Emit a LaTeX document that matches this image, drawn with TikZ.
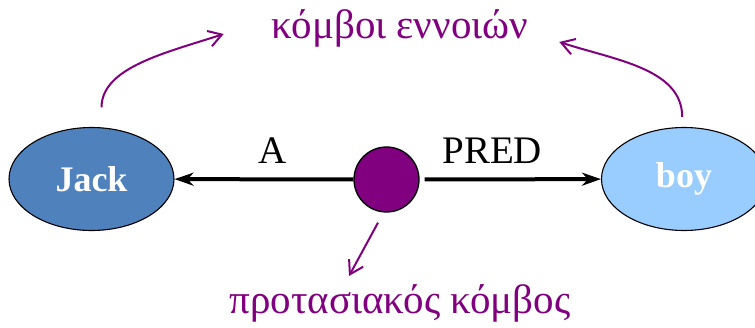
\documentclass[tikz,border=0pt]{standalone}
\usepackage{fontspec}
\setmainfont{Liberation Serif}
\usetikzlibrary{arrows.meta, shapes.geometric}

\definecolor{jackblue}{RGB}{79,129,189}
\definecolor{boyblue}{RGB}{153,204,255}
\definecolor{nodepurple}{RGB}{128,0,128}

\begin{document}
\begin{tikzpicture}[x=1pt, y=1pt,
  concept/.style={ellipse, draw, line width=1.1pt, minimum width=165pt, minimum height=103pt,
    inner sep=0pt, text=white, font=\fontsize{36}{40}\selectfont\bfseries},
  clausenode/.style={circle, draw, line width=1.3pt, fill=nodepurple, minimum size=65pt, inner sep=0pt},
  relarrow/.style={line width=4pt, -{Stealth[length=19pt, width=13pt, inset=6pt]}},
  rolelbl/.style={font=\fontsize{39}{44}\selectfont, inner sep=0pt, above=14pt},
  pointer/.style={nodepurple, line width=2pt, -{Straight Barb[length=13pt, width=16pt]}},
  note/.style={text=nodepurple, font=\fontsize{41}{46}\selectfont, inner sep=0pt, anchor=base}]

% Frame of the picture
\clip (0,0) rectangle (755,327);

% Concept nodes and the clause node
\foreach \name/\x/\col/\txt in {jack/91.5/jackblue/Jack, boy/684/boyblue/boy} {
    \node[concept, fill=\col] (\name) at (\x,148) {\txt};
}
\node[clausenode] (clause) at (386.5,147.5) {};

% Labelled relations
\draw[relarrow] (clause) -- (jack) node[rolelbl, pos=0.45] (rolea) {A};
\draw[relarrow, shorten <=5pt] (clause) -- (boy) node[rolelbl, pos=0.4] (rolepred) {PRED};

% Notes
\node[note] (concepts) at (400,288) {κόμβοι εννοιών};
\node[note] (clausenote) at (400,14) {προτασιακός κόμβος};

% Pointers to the nodes
\draw[pointer, shorten <=20pt] (jack.79) to[out=90, in=198] ([xshift=-48pt, yshift=5pt]concepts.base west);
\draw[pointer, shorten <=10pt] (boy.92) to[out=90, in=-18] ([xshift=31pt, yshift=-3pt]concepts.base east);
\draw[pointer] ([shift={(-8.5pt,-10pt)}]clause.south) -- ([shift={(-51pt,37pt)}]clausenote.base);

\end{tikzpicture}
\end{document}
